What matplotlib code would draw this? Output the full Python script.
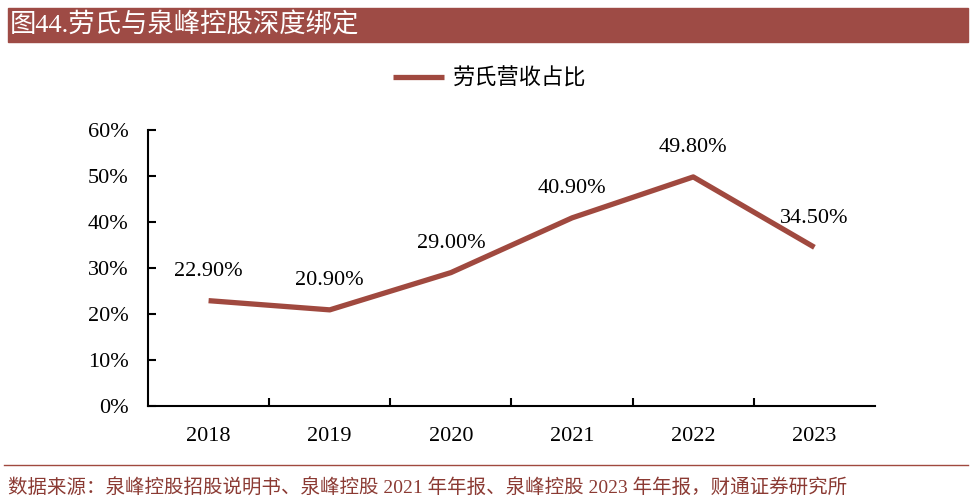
import matplotlib
matplotlib.use('Agg')
import matplotlib.pyplot as plt
from matplotlib.patches import Rectangle
from matplotlib.lines import Line2D

# data
years = ['2018', '2019', '2020', '2021', '2022', '2023']
share = [22.90, 20.90, 29.00, 40.90, 49.80, 34.50]
y_ticks = [0, 10, 20, 30, 40, 50, 60]
series_name = '劳氏营收占比'
title = '图44.劳氏与泉峰控股深度绑定'
source = '数据来源：泉峰控股招股说明书、泉峰控股 2021 年年报、泉峰控股 2023 年年报，财通证券研究所'

red = '#A0493F'
cjk = ['Liberation Serif', 'Noto Sans CJK SC']
plt.rcParams['font.family'] = cjk

fig = plt.figure(figsize=(9.75, 5.04), dpi=100)
W, H = 975, 504

# title banner
fig.patches.append(Rectangle((8 / W, 1 - 42 / H), 960 / W, 34 / H,
                             transform=fig.transFigure, color='#9E4B45', zorder=0))
fig.text(10 / W, 1 - 25 / H, title, color='white', fontsize=19, va='center', ha='left')

# bottom rule and source
fig.add_artist(Line2D([4 / W, 968 / W], [1 - 465 / H, 1 - 465 / H], transform=fig.transFigure,
                      color='#A0493F', linewidth=1))
fig.text(8 / W, 1 - 488 / H, source, color='#8B3A33', fontsize=14, va='center', ha='left')

ax = fig.add_axes([148 / W, 1 - 406 / H, 727 / W, 276 / H])
x = list(range(len(years)))
ax.plot(x, share, color=red, linewidth=3.8, solid_capstyle='butt', label=series_name)
for xi, v in zip(x, share):
    ax.annotate('%.2f%%' % v, (xi, v), xytext=(0, 14), textcoords='offset points',
                ha='center', va='bottom', fontsize=16)

ax.set_xlim(-0.5, len(years) - 0.5)
ax.set_ylim(0, 60)
ax.set_yticks(y_ticks)
ax.set_yticklabels(['%d%%' % t for t in y_ticks], fontsize=16)
ax.set_xticks(x)
ax.set_xticklabels(years, fontsize=16)
ax.set_xticks([i + 0.5 for i in range(len(years) - 1)], minor=True)
ax.tick_params(axis='x', which='major', length=0, pad=15)
ax.tick_params(axis='x', which='minor', direction='in', length=6, width=1.5)
ax.tick_params(axis='y', direction='in', length=6, width=1.5, pad=14)
ax.spines['top'].set_visible(False)
ax.spines['right'].set_visible(False)
ax.spines['left'].set_linewidth(1.5)
ax.spines['bottom'].set_linewidth(1.5)

fig.legend(loc='center', bbox_to_anchor=(490 / W, 1 - 79 / H), frameon=False,
           fontsize=16, handlelength=2.3, handletextpad=0.4)

fig.savefig('out.png', dpi=100)
